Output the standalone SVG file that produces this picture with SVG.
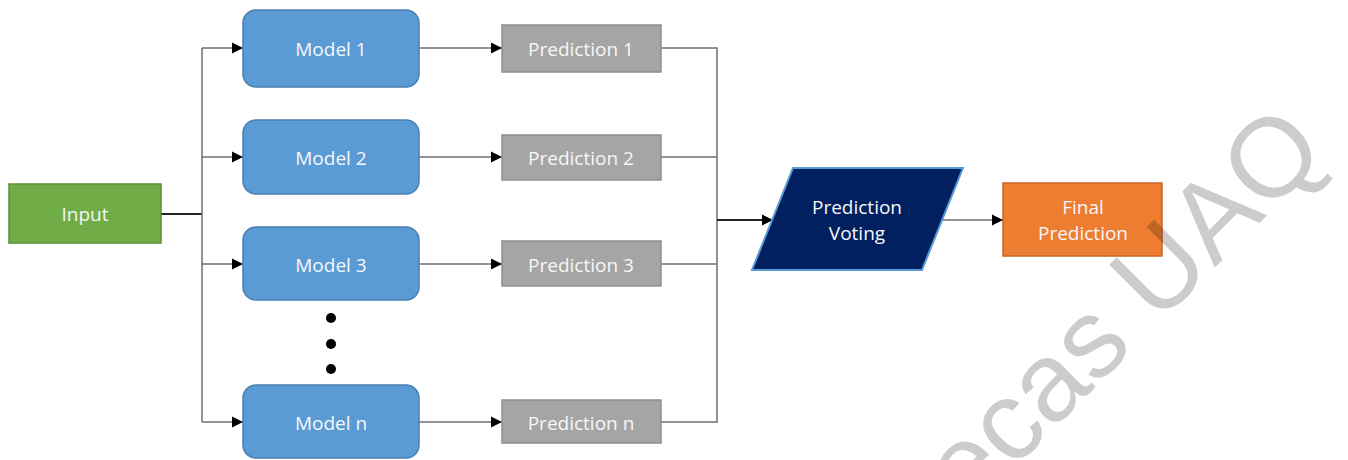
<svg xmlns="http://www.w3.org/2000/svg" width="1348" height="460" viewBox="0 0 1348 460">
<defs>
<marker id="arr" markerWidth="12" markerHeight="12" refX="11" refY="6" orient="auto" markerUnits="userSpaceOnUse">
<path d="M0,0.5 L11,6 L0,11.5 Z" fill="#000"/>
</marker>
<style>
.lbl{font-family:"Open Sans","Noto Sans",sans-serif;font-size:19px;fill:#f7f7f7;text-anchor:middle;dominant-baseline:central}
.model{fill:#5B9BD5;stroke:#4a7fb0;stroke-width:1.5}
.pred{fill:#A5A5A5;stroke:#8e8e8e;stroke-width:1.5}
.ln{fill:none;stroke:#6f6f6f;stroke-width:1.5}
.lnd{fill:none;stroke:#222;stroke-width:2}
</style>
</defs>
<rect width="1348" height="460" fill="#fff"/>
<g id="connectors">
<path class="lnd" d="M161,214 H202"/>
<path class="ln" d="M202,48 V422"/>
<path class="ln" d="M202,48 H243" marker-end="url(#arr)"/>
<path class="ln" d="M202,157 H243" marker-end="url(#arr)"/>
<path class="ln" d="M202,264 H243" marker-end="url(#arr)"/>
<path class="ln" d="M202,422 H243" marker-end="url(#arr)"/>
<path class="ln" d="M419,48 H502" marker-end="url(#arr)"/>
<path class="ln" d="M419,157 H502" marker-end="url(#arr)"/>
<path class="ln" d="M419,264 H502" marker-end="url(#arr)"/>
<path class="ln" d="M419,422 H502" marker-end="url(#arr)"/>
<path class="ln" d="M661,48 H717 V422 H661"/>
<path class="ln" d="M661,157 H717"/>
<path class="ln" d="M661,264 H717"/>
<path class="lnd" d="M717,220 H773" marker-end="url(#arr)"/>
<path class="ln" d="M942,220 H1003" marker-end="url(#arr)"/>
</g>
<g id="input">
<rect x="9" y="184" width="152" height="59" fill="#70AD47" stroke="#5a9038" stroke-width="1.5"/>
<text class="lbl" x="85" y="214">Input</text>
</g>
<g id="model1">
<rect class="model" x="243" y="10" width="176" height="77" rx="13"/>
<text class="lbl" x="331" y="49">Model 1</text>
</g>
<g id="model2">
<rect class="model" x="243" y="120" width="176" height="74" rx="13"/>
<text class="lbl" x="331" y="158">Model 2</text>
</g>
<g id="model3">
<rect class="model" x="243" y="227" width="176" height="73" rx="13"/>
<text class="lbl" x="331" y="265">Model 3</text>
</g>
<g id="dots" fill="#000">
<circle cx="331" cy="318" r="5"/>
<circle cx="331" cy="344" r="5"/>
<circle cx="331" cy="369" r="5"/>
</g>
<g id="modeln">
<rect class="model" x="243" y="385" width="176" height="73" rx="13"/>
<text class="lbl" x="331" y="423">Model n</text>
</g>
<g id="pred1">
<rect class="pred" x="502" y="25" width="159" height="47"/>
<text class="lbl" x="581" y="49">Prediction 1</text>
</g>
<g id="pred2">
<rect class="pred" x="502" y="135" width="159" height="45"/>
<text class="lbl" x="581" y="158">Prediction 2</text>
</g>
<g id="pred3">
<rect class="pred" x="502" y="241" width="159" height="45"/>
<text class="lbl" x="581" y="265">Prediction 3</text>
</g>
<g id="predn">
<rect class="pred" x="502" y="400" width="159" height="43"/>
<text class="lbl" x="581" y="423">Prediction n</text>
</g>
<g id="voting">
<polygon points="793,168 963,168 922,270 752,270" fill="#002060" stroke="#5B9BD5" stroke-width="2"/>
<text class="lbl" x="857" y="207">Prediction</text>
<text class="lbl" x="857" y="233">Voting</text>
</g>
<g id="final">
<rect x="1003" y="183" width="159" height="73" fill="#ED7D31" stroke="#c8642a" stroke-width="1.5"/>
<text class="lbl" x="1083" y="207">Final</text>
<text class="lbl" x="1083" y="233">Prediction</text>
</g>
<g id="watermark">
<text x="1323" y="153" transform="translate(6 2) rotate(-2 1283 152) rotate(-43 1323 153)" font-family="Liberation Sans, Arial, sans-serif" font-size="112" fill="#000" fill-opacity="0.2" text-anchor="end">tecas UAQ</text>
</g>
</svg>
